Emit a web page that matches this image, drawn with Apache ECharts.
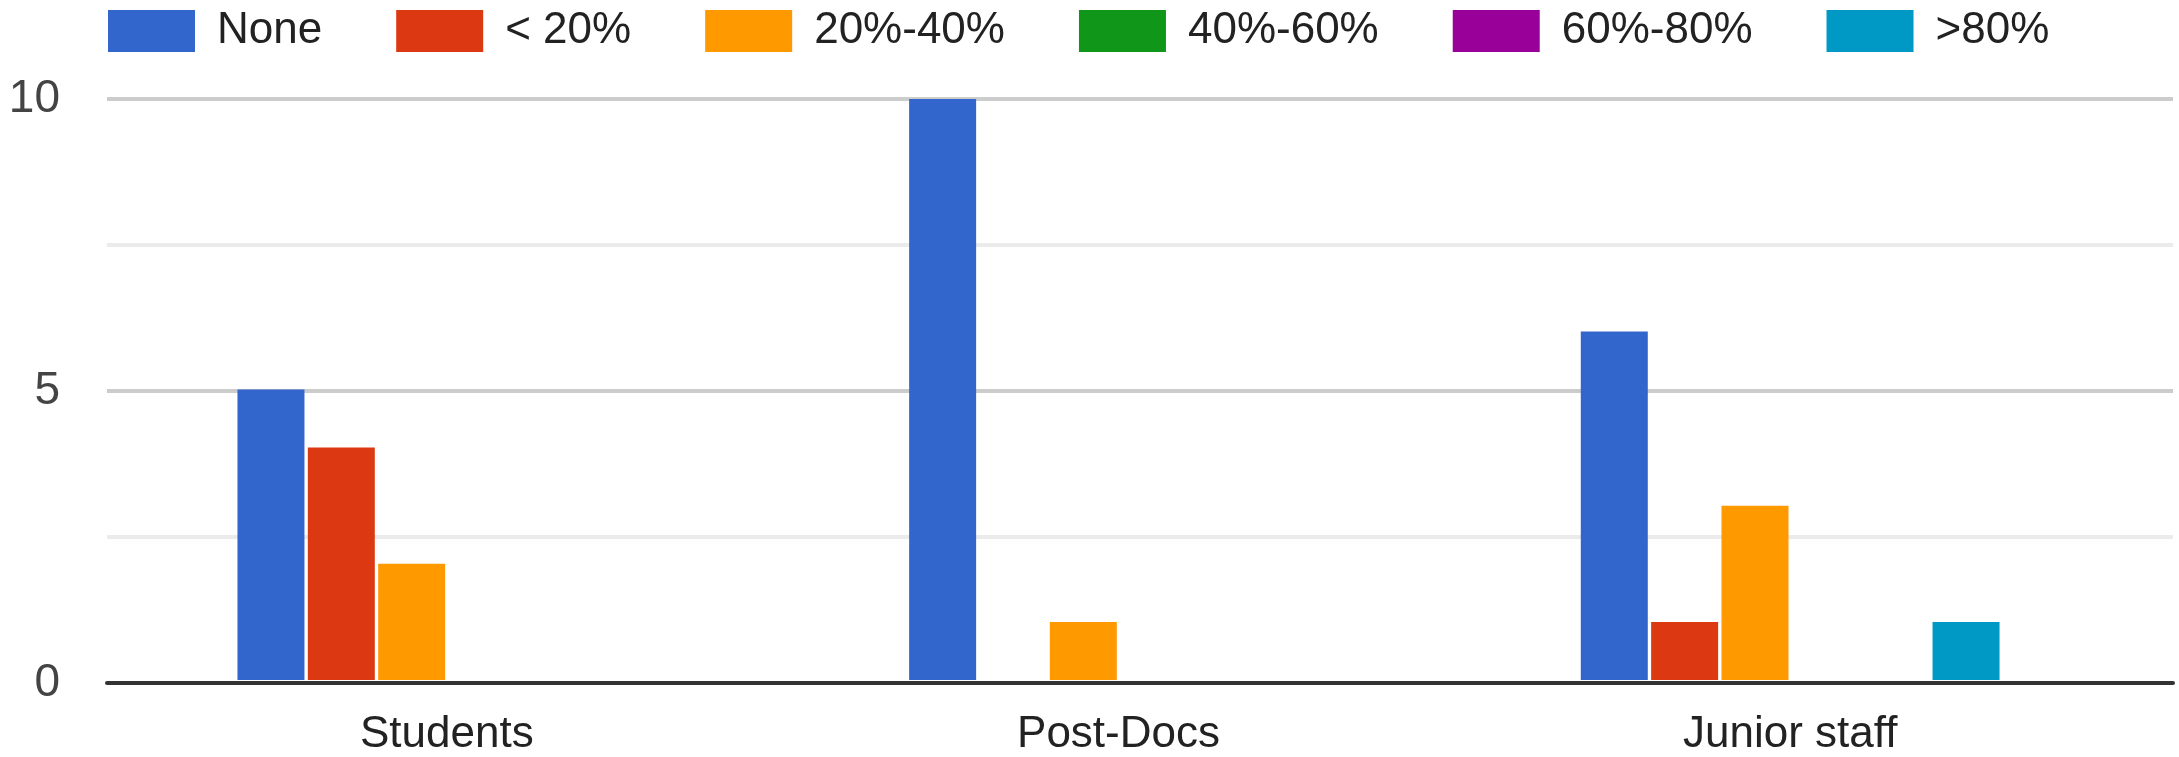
<!DOCTYPE html>
<html>
<head>
<meta charset="utf-8">
<title>Share of time by career stage</title>
<script src="https://cdn.jsdelivr.net/npm/echarts@6/dist/echarts.min.js"></script>
<style>
  html, body { margin: 0; padding: 0; background: #ffffff; }
  #chart { width: 2179px; height: 757px; }
</style>
</head>
<body>
<div id="chart"></div>
<script>
// Career stages along the x axis
const categories = ['Students', 'Post-Docs', 'Junior staff'];

// Response buckets (legend order)
const seriesNames = ['None', '< 20%', '20%-40%', '40%-60%', '60%-80%', '>80%'];

// Counts per bucket, one value per career stage
const valuesNone   = [5, 10, 6];
const valuesLt20   = [4, 0, 1];
const values20to40 = [2, 1, 3];
const values40to60 = [0, 0, 0];
const values60to80 = [0, 0, 0];
const valuesGt80   = [0, 0, 1];

// Value axis ticks
const yTicks = [0, 5, 10];

const seriesValues = [valuesNone, valuesLt20, values20to40, values40to60, values60to80, valuesGt80];
const palette = ['#3366cc', '#dc3912', '#ff9900', '#109618', '#990099', '#0099c6'];

const FONT = '"Liberation Sans", Arial, sans-serif';

const chart = echarts.init(document.getElementById('chart'), null, { renderer: 'canvas' });

const series = seriesNames.map((name, i) => ({
  name: name,
  type: 'bar',
  xAxisIndex: 1,
  yAxisIndex: 1,
  data: seriesValues[i],
  barWidth: 67,
  barGap: '5%',
  itemStyle: { color: palette[i] },
  emphasis: { disabled: true }
}));

chart.setOption({
  animation: false,
  backgroundColor: '#ffffff',
  color: palette,
  textStyle: { fontFamily: FONT },
  legend: {
    left: 108,
    top: 9,
    padding: 0,
    icon: 'rect',
    itemWidth: 87,
    itemHeight: 42,
    itemGap: 74,
    data: seriesNames,
    textStyle: {
      fontFamily: FONT,
      fontSize: 44,
      color: '#222222',
      padding: [5, 0, 0, 17]
    }
  },
  grid: [
    // background grid: gridlines and baseline across the full width
    { left: 107, right: 6, top: 99, bottom: 74, containLabel: false },
    // bar area
    { left: 111, width: 2015, top: 99, bottom: 74, containLabel: false }
  ],
  xAxis: [
    {
      type: 'category',
      gridIndex: 0,
      data: [''],
      z: 10,
      axisLine: { show: true, lineStyle: { color: '#333333', width: 4 } },
      axisTick: { show: false },
      axisLabel: { show: false },
      splitLine: { show: false }
    },
    {
      type: 'category',
      gridIndex: 1,
      data: categories,
      axisLine: { show: false },
      axisTick: { show: false },
      axisLabel: {
        fontFamily: FONT,
        fontSize: 44,
        color: '#222222',
        margin: 33
      },
      splitLine: { show: false }
    }
  ],
  yAxis: [
    {
      type: 'value',
      gridIndex: 0,
      min: yTicks[0],
      max: yTicks[yTicks.length - 1],
      interval: yTicks[1] - yTicks[0],
      axisLine: { show: false },
      axisTick: { show: false },
      axisLabel: {
        fontFamily: FONT,
        fontSize: 46,
        color: '#444444',
        margin: 47
      },
      splitLine: { show: true, lineStyle: { color: '#cccccc', width: 4 } },
      minorTick: { show: false, splitNumber: 2 },
      minorSplitLine: { show: true, lineStyle: { color: '#ebebeb', width: 4 } }
    },
    {
      type: 'value',
      gridIndex: 1,
      min: yTicks[0],
      max: yTicks[yTicks.length - 1],
      show: false,
      splitLine: { show: false }
    }
  ],
  series: series
});
</script>
</body>
</html>
